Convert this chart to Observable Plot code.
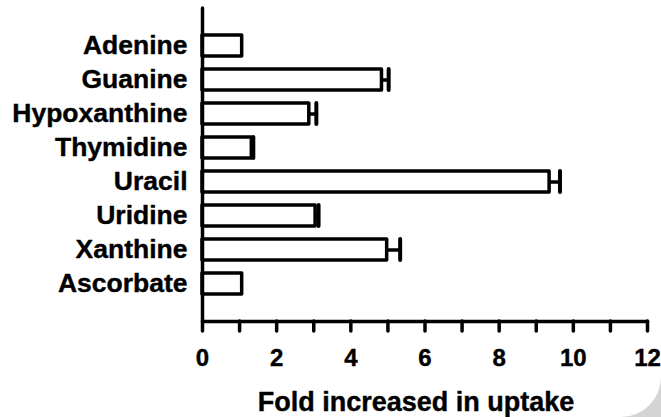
<!DOCTYPE html>
<html>
<head>
<meta charset="utf-8">
<script src="https://cdn.jsdelivr.net/npm/d3@7"></script>
<script src="https://cdn.jsdelivr.net/npm/@observablehq/plot@0.6"></script>
<style>
  html, body { margin: 0; padding: 0; background: #d4d4d4; }
  #card { width: 661px; height: 417px; background: #fff; border-bottom-right-radius: 40px; overflow: hidden; }
  svg { display: block; }
</style>
</head>
<body>
<div id="card"></div>
<script>
const categories = ["Adenine", "Guanine", "Hypoxanthine", "Thymidine", "Uracil", "Uridine", "Xanthine", "Ascorbate"];
const values = [1.07, 4.84, 2.88, 1.33, 9.36, 3.05, 4.98, 1.07];
const errors = [0, 0.18, 0.19, 0.04, 0.28, 0.08, 0.35, 0];
const xTicks = [0, 1, 2, 3, 4, 5, 6, 7, 8, 9, 10, 11, 12];
const xTitle = "Fold increased in uptake";

const data = categories.map((name, i) => ({name, value: values[i], err: errors[i], hi: values[i] + errors[i]}));
const withErr = data.filter(d => d.err > 0.02);

const chart = Plot.plot({
  width: 661,
  height: 417,
  marginTop: 8,
  marginBottom: 96,
  marginLeft: 202,
  marginRight: 14,
  style: {fontFamily: "'Liberation Sans', Arial, sans-serif", background: "transparent", color: "#000"},
  x: {domain: [0, 12]},
  y: {domain: categories, paddingInner: 0.37, paddingOuter: 0.695},
  marks: [
    Plot.barX(data, {x: "value", y: "name", fill: "white", stroke: "black", strokeWidth: 3.5, strokeLinejoin: "round"}),
    Plot.ruleY(withErr, {y: "name", x1: "value", x2: "hi", stroke: "black", strokeWidth: 3.5}),
    Plot.tickX(withErr, {x: "hi", y: "name", stroke: "black", strokeWidth: 4, strokeLinecap: "round"}),
    Plot.axisY({tickSize: 0, tickPadding: 15, fontSize: 26.5, fontWeight: "bold", label: null,
      textStroke: "black", textStrokeWidth: 0.4}),
    Plot.axisX({ticks: xTicks, tickSize: 10, tickPadding: 17, strokeWidth: 3.5, strokeLinecap: "round",
      tickFormat: d => d % 2 === 0 ? String(d) : "", fontSize: 24, fontWeight: "bold", label: null,
      textStroke: "black", textStrokeWidth: 0.4}),
    Plot.ruleX([0], {stroke: "black", strokeWidth: 3.5, strokeLinecap: "round"}),
    Plot.frame({anchor: "bottom", stroke: "black", strokeWidth: 3.5, strokeLinecap: "round"}),
    Plot.text([xTitle], {frameAnchor: "bottom", lineAnchor: "middle", dy: 81, dx: -9, fontSize: 27, fontWeight: "bold",
      fill: "black", stroke: "black", strokeWidth: 0.4})
  ]
});
document.getElementById("card").appendChild(chart);
</script>
</body>
</html>
